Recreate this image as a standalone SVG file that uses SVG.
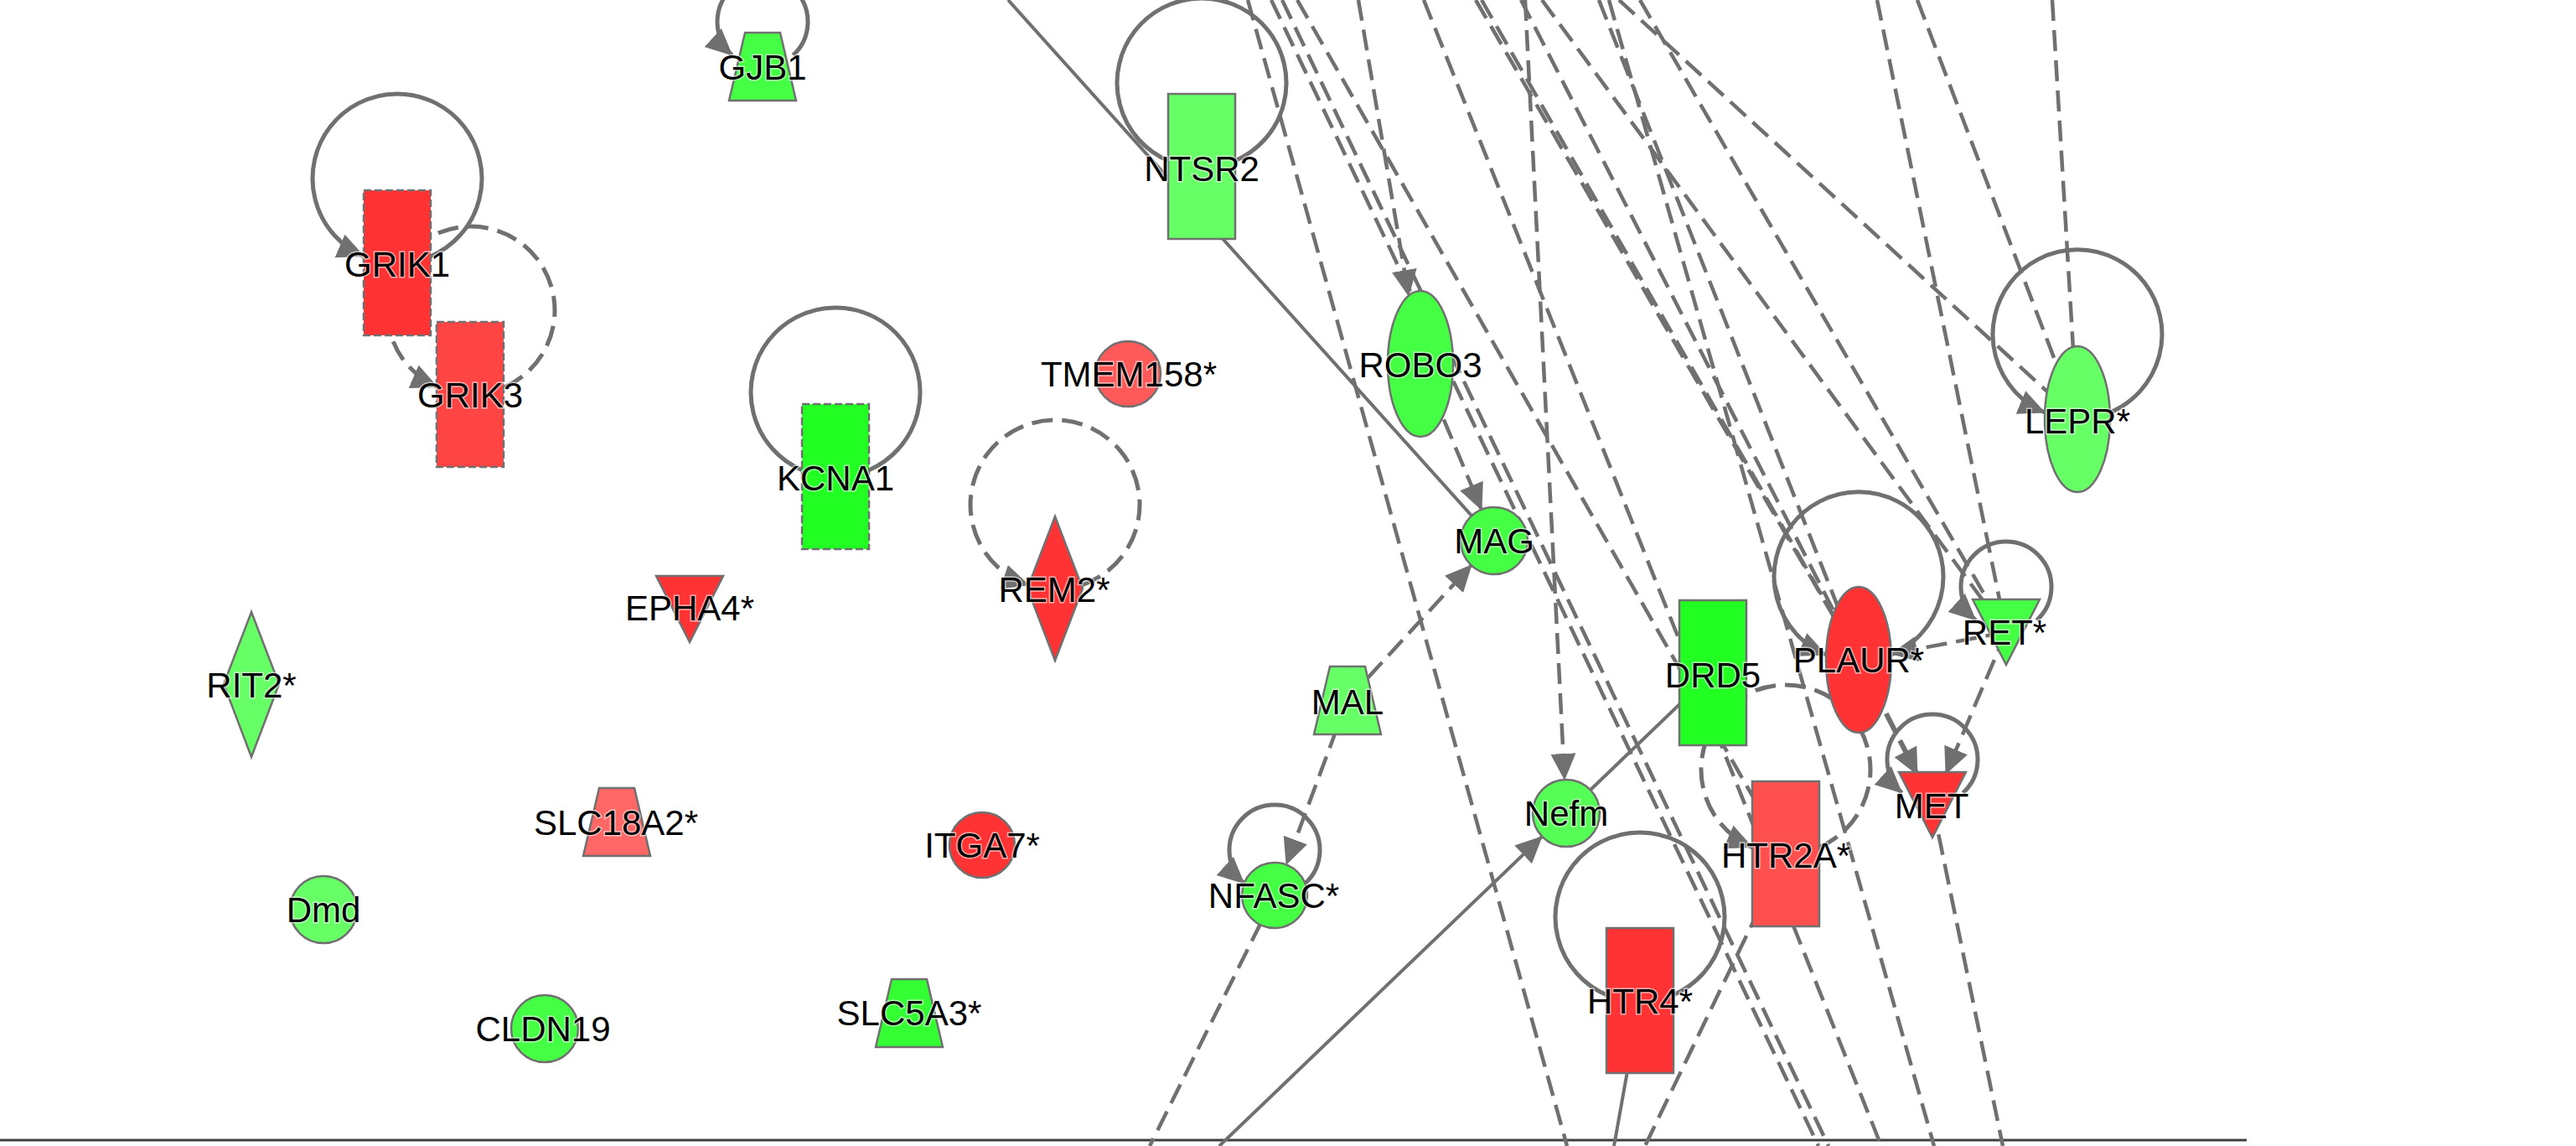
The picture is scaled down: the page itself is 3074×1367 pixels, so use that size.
<svg xmlns="http://www.w3.org/2000/svg" width="3074" height="1367" viewBox="0 0 3074 1367">
<defs>
<style>
.d{fill:none;stroke:#707070;stroke-width:4.5;stroke-dasharray:25 11}
.s{fill:none;stroke:#707070;stroke-width:4}
.lp{fill:none;stroke:#707070;stroke-width:5}
.ld{fill:none;stroke:#707070;stroke-width:5;stroke-dasharray:25 11}
.n{stroke:#707070;stroke-width:2.5}
.nd{stroke:#707070;stroke-width:2.5;stroke-dasharray:9 4}
text{font-family:"Liberation Sans",Arial,sans-serif;font-size:42px;text-anchor:middle;fill:#000;stroke:#fff;stroke-width:3;stroke-opacity:0.6;paint-order:stroke}
</style>
<marker id="a" markerUnits="userSpaceOnUse" markerWidth="34" markerHeight="32" refX="31" refY="15" orient="auto">
<path d="M0,0 L32,15 L0,30 z" fill="#707070"/>
</marker>
</defs>
<rect width="3074" height="1367" fill="#fff"/>
<line x1="0" y1="1360" x2="2681" y2="1360" stroke="#404040" stroke-width="3"/>
<g id="connectors">
<line class="s" x1="1203" y1="0" x2="1783" y2="645"/>
<line class="d" x1="1489" y1="0" x2="1870" y2="1367"/>
<line class="d" x1="1517" y1="0" x2="2170" y2="1367"/>
<line class="d" x1="1530" y1="0" x2="2182" y2="1367"/>
<line class="d" x1="1548" y1="0" x2="2131" y2="1019"/>
<line class="d" x1="1621" y1="0" x2="1681" y2="353" marker-end="url(#a)"/>
<line class="d" x1="1699" y1="0" x2="2245" y2="1367"/>
<line class="d" x1="1761" y1="0" x2="2218" y2="787"/>
<line class="d" x1="1768" y1="0" x2="2218" y2="787"/>
<line class="d" x1="1815" y1="0" x2="2218" y2="787"/>
<line class="d" x1="1820" y1="0" x2="1867" y2="930" marker-end="url(#a)"/>
<line class="d" x1="1840" y1="0" x2="2394" y2="754"/>
<line class="d" x1="1908" y1="0" x2="2218" y2="787"/>
<line class="d" x1="1920" y1="0" x2="2308" y2="1367"/>
<line class="d" x1="1932" y1="0" x2="2479" y2="500"/>
<line class="d" x1="1957" y1="0" x2="2394" y2="754"/>
<line class="d" x1="2240" y1="0" x2="2394" y2="754"/>
<line class="d" x1="2288" y1="0" x2="2479" y2="500"/>
<line class="d" x1="2449" y1="0" x2="2479" y2="500"/>
<line class="d" x1="1695" y1="434" x2="1768" y2="608" marker-end="url(#a)"/>
<line class="d" x1="1608" y1="835" x2="1756" y2="674" marker-end="url(#a)"/>
<line class="d" x1="1608" y1="835" x2="1535" y2="1031" marker-end="url(#a)"/>
<line class="d" x1="1521" y1="1068" x2="1372" y2="1367"/>
<line class="s" x1="1455" y1="1367" x2="1840" y2="998" marker-end="url(#a)"/>
<line class="s" x1="1869" y1="970" x2="2044" y2="802"/>
<line class="s" x1="1957" y1="1194" x2="1926" y2="1367"/>
<line class="d" x1="2131" y1="1019" x2="1963" y2="1367"/>
<line class="d" x1="2306" y1="960" x2="2390" y2="1367"/>
<line class="d" x1="2394" y1="754" x2="2257" y2="780" marker-end="url(#a)"/>
<line class="d" x1="2394" y1="754" x2="2322" y2="923" marker-end="url(#a)"/>
<line class="d" x1="2218" y1="787" x2="2288" y2="924" marker-end="url(#a)" style="stroke-width:6"/>
<path class="lp" d="M946.4,65.9 A54,54 0 1 0 873.6,65.9" marker-end="url(#a)"/>
<path class="lp" d="M514,305.7 A101,101 0 1 0 434,305.7" marker-end="url(#a)"/>
<path class="ld" d="M602,461.7 A100,100 0 1 0 522,461.7" marker-end="url(#a)"/>
<path class="lp" d="M1037,560.7 A101,101 0 1 0 957,560.7"/>
<path class="lp" d="M1474,191.7 A101,101 0 1 0 1394,191.7"/>
<path class="ld" d="M1290.4,698 A101,101 0 1 0 1227.6,698" marker-end="url(#a)"/>
<path class="lp" d="M1557.4,1053.9 A54,54 0 1 0 1484.6,1053.9" marker-end="url(#a)"/>
<path class="lp" d="M1997,1186.7 A101,101 0 1 0 1917,1186.7"/>
<path class="ld" d="M2171,1010.7 A101,101 0 1 0 2091,1010.7" marker-end="url(#a)"/>
<path class="lp" d="M2257,781 A101,101 0 1 0 2179,781" marker-end="url(#a)"/>
<path class="lp" d="M2518,492 A101,101 0 1 0 2440,492" marker-end="url(#a)"/>
<path class="lp" d="M2430.4,739.9 A54,54 0 1 0 2357.6,739.9" marker-end="url(#a)"/>
<path class="lp" d="M2342.4,945.9 A54,54 0 1 0 2269.6,945.9" marker-end="url(#a)"/>
</g>
<g id="GJB1"><polygon class="n" fill="#44FF44" points="889,39 931,39 950,120 870,120"/><text x="910" y="95">GJB1</text></g>
<g id="GRIK1"><rect class="nd" fill="#FF3333" x="434" y="227" width="80" height="173"/><text x="474" y="330">GRIK1</text></g>
<g id="GRIK3"><rect class="nd" fill="#FF4444" x="521" y="384" width="80" height="173"/><text x="561" y="486">GRIK3</text></g>
<g id="KCNA1"><rect class="nd" fill="#22FF22" x="957" y="482" width="80" height="173"/><text x="997" y="585">KCNA1</text></g>
<g id="NTSR2"><rect class="n" fill="#66FF66" x="1394" y="112" width="80" height="173"/><text x="1434" y="216">NTSR2</text></g>
<g id="TMEM158"><circle class="n" fill="#FF5A5A" cx="1346" cy="446" r="39"/><text x="1347" y="461">TMEM158*</text></g>
<g id="REM2"><polygon class="n" fill="#FF3333" points="1259,616 1292,702 1259,788 1226,702"/><text x="1258" y="718">REM2*</text></g>
<g id="EPHA4"><polygon class="n" fill="#FF3333" points="783,687 863,687 823,766"/><text x="823" y="740">EPHA4*</text></g>
<g id="RIT2"><polygon class="n" fill="#66FF66" points="300,730 333,816 300,903 267,816"/><text x="300" y="832">RIT2*</text></g>
<g id="SLC18A2"><polygon class="n" fill="#FF6666" points="715,940 757,940 776,1021 696,1021"/><text x="735" y="996">SLC18A2*</text></g>
<g id="Dmd"><circle class="n" fill="#66FF66" cx="386" cy="1085" r="40"/><text x="386" y="1100">Dmd</text></g>
<g id="CLDN19"><circle class="n" fill="#44FF44" cx="650" cy="1227" r="40"/><text x="648" y="1242">CLDN19</text></g>
<g id="ITGA7"><circle class="n" fill="#FF3333" cx="1172" cy="1008" r="39"/><text x="1172" y="1023">ITGA7*</text></g>
<g id="SLC5A3"><polygon class="n" fill="#33FF33" points="1064,1168 1106,1168 1125,1249 1045,1249"/><text x="1085" y="1223">SLC5A3*</text></g>
<g id="MAL"><polygon class="n" fill="#66FF66" points="1587,795 1629,795 1648,876 1568,876"/><text x="1608" y="852">MAL</text></g>
<g id="NFASC"><circle class="n" fill="#44FF44" cx="1521" cy="1068" r="39"/><text x="1520" y="1083">NFASC*</text></g>
<g id="ROBO3"><ellipse class="n" fill="#44FF44" cx="1695" cy="434" rx="39" ry="87"/><text x="1695" y="450">ROBO3</text></g>
<g id="MAG"><circle class="n" fill="#44FF44" cx="1783" cy="645" r="40"/><text x="1783" y="660">MAG</text></g>
<g id="Nefm"><circle class="n" fill="#55FF55" cx="1869" cy="970" r="40"/><text x="1869" y="985">Nefm</text></g>
<g id="DRD5"><rect class="n" fill="#22FF22" x="2004" y="716" width="80" height="173"/><text x="2044" y="820">DRD5</text></g>
<g id="HTR4"><rect class="n" fill="#FF3333" x="1917" y="1107" width="80" height="173"/><text x="1957" y="1209">HTR4*</text></g>
<g id="HTR2A"><rect class="n" fill="#FF5050" x="2091" y="932" width="80" height="173"/><text x="2131" y="1035">HTR2A*</text></g>
<g id="PLAUR"><ellipse class="n" fill="#FF3333" cx="2218" cy="787" rx="39" ry="87"/><text x="2218" y="802">PLAUR*</text></g>
<g id="RET"><polygon class="n" fill="#44FF44" points="2354,715 2434,715 2394,793"/><text x="2392" y="769">RET*</text></g>
<g id="MET"><polygon class="n" fill="#FF3333" points="2266,921 2346,921 2306,999"/><text x="2305" y="976">MET</text></g>
<g id="LEPR"><ellipse class="n" fill="#66FF66" cx="2479" cy="500" rx="39" ry="87"/><text x="2479" y="517">LEPR*</text></g>
</svg>
